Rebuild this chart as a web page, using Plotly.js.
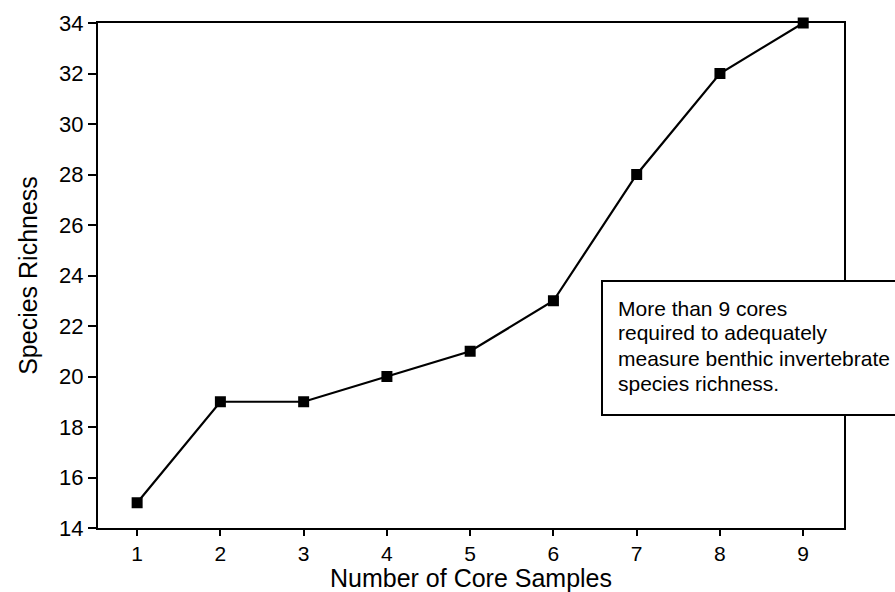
<!DOCTYPE html>
<html>
<head>
<meta charset="utf-8">
<script src="https://cdn.plot.ly/plotly-3.0.1.min.js"></script>
<style>html,body{margin:0;padding:0;background:#fff;}#chart{width:895px;height:592px;}</style>
</head>
<body>
<div id="chart"></div>
<script>
const coreSamples = [1, 2, 3, 4, 5, 6, 7, 8, 9];
const speciesRichness = [15, 19, 19, 20, 21, 23, 28, 32, 34];
const xTickVals = [1, 2, 3, 4, 5, 6, 7, 8, 9];
const yTickVals = [14, 16, 18, 20, 22, 24, 26, 28, 30, 32, 34];
const noteLines = [
  "More than 9 cores",
  "required to adequately",
  "measure benthic invertebrate",
  "species richness."
];
const noteY = [0.4356, 0.388, 0.3366, 0.287];

const font = "Liberation Sans, Arial, Helvetica, sans-serif";

const trace = {
  x: coreSamples,
  y: speciesRichness,
  type: "scatter",
  mode: "lines+markers",
  line: {color: "#000", width: 2.2},
  marker: {symbol: "square", size: 11, color: "#000"},
  cliponaxis: false,
  hoverinfo: "skip"
};

const annotations = noteLines.map((t, i) => ({
  text: t, xref: "paper", yref: "paper", x: 0.694, y: noteY[i],
  xanchor: "left", yanchor: "middle", showarrow: false,
  font: {family: font, size: 21, color: "#000"}
}));

const layout = {
  width: 895, height: 592,
  margin: {l: 98, r: 51, t: 23, b: 64},
  paper_bgcolor: "#fff", plot_bgcolor: "#fff",
  showlegend: false,
  font: {family: font, color: "#000"},
  xaxis: {
    range: [0.53, 9.49], tickvals: xTickVals, ticks: "outside", ticklen: 6, tickwidth: 2,
    tickcolor: "#000", showgrid: false, zeroline: false, showline: true, linecolor: "#000",
    linewidth: 2, mirror: true, tickfont: {family: font, size: 21, color: "#000"},
    title: {text: "Number of Core Samples", font: {family: font, size: 25, color: "#000"}, standoff: 2}
  },
  yaxis: {
    range: [14, 34], tickvals: yTickVals, ticks: "outside", ticklen: 8, tickwidth: 2,
    tickcolor: "#000", showgrid: false, zeroline: false, showline: true, linecolor: "#000",
    linewidth: 2, mirror: true, tickfont: {family: font, size: 22, color: "#000"},
    title: {text: "Species Richness", font: {family: font, size: 25, color: "#000"}, standoff: 14}
  },
  shapes: [{
    type: "rect", xref: "paper", yref: "paper", x0: 0.6756, x1: 1.1, y0: 0.2238, y1: 0.489,
    fillcolor: "#fff", line: {color: "#000", width: 2}, layer: "above"
  }],
  annotations: annotations
};

Plotly.newPlot("chart", [trace], layout, {displayModeBar: false, staticPlot: true});
</script>
</body>
</html>
